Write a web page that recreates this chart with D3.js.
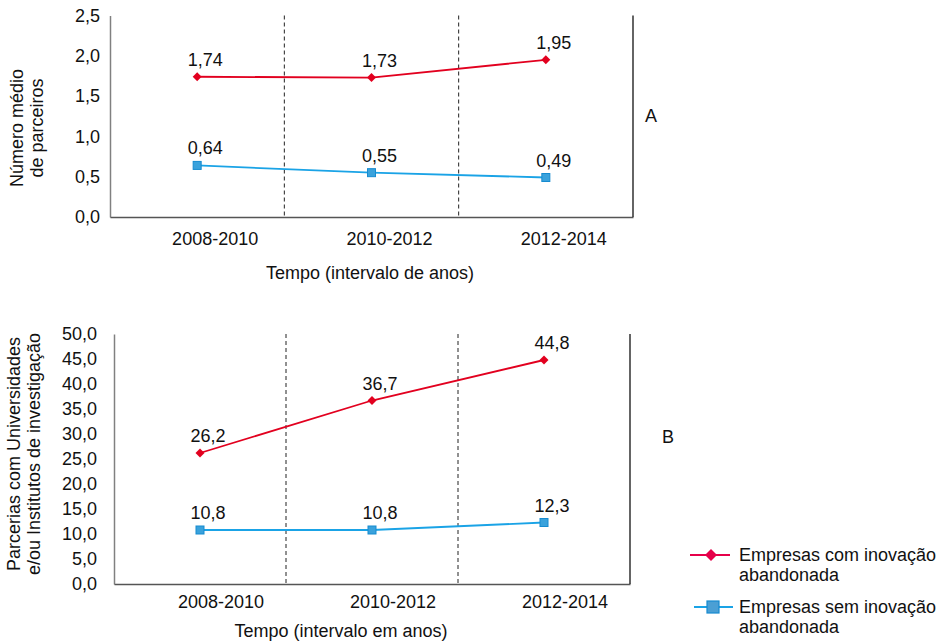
<!DOCTYPE html>
<html><head><meta charset="utf-8">
<script src="https://cdn.jsdelivr.net/npm/d3@7"></script>
<style>body{margin:0;background:#fff}svg text{font-family:"Liberation Sans",Arial,sans-serif;fill:#111}</style>
</head><body><svg id="c" width="950" height="642"></svg>
<script>
const categories = ["2008-2010","2010-2012","2012-2014"];
const aComInovacao = [1.74,1.73,1.95];
const aSemInovacao = [0.64,0.55,0.49];
const aTicks = [0,0.5,1.0,1.5,2.0,2.5];
const bComInovacao = [26.2,36.7,44.8];
const bSemInovacao = [10.8,10.8,12.3];
const bTicks = [0,5,10,15,20,25,30,35,40,45,50];
const seriesNames = ["Empresas com inovação abandonada","Empresas sem inovação abandonada"];

const RED = "#e2001f", BLUE = "#1aa3e6", SQFILL = "#3aa2dc", SQSTROKE = "#168bd0";
const FS = "18px";
const svg = d3.select("#c");
const fmt1 = d => d3.format(".1f")(d).replace(".", ",");
const fmt2 = d => d3.format(".2f")(d).replace(".", ",");

function panel(cfg){
  const g = svg.append("g");
  const x = d3.scaleBand().domain(categories).range([cfg.x0, cfg.x1]).padding(0);
  const y = d3.scaleLinear().domain([0, cfg.ymax]).range([cfg.yb, cfg.yt]);
  const ya = g.append("g").attr("transform", `translate(${cfg.x0},0)`)
    .call(d3.axisLeft(y).tickValues(cfg.ticks).tickFormat(fmt1).tickSize(0).tickPadding(cfg.tp));
  ya.select(".domain").attr("stroke", "#808080").attr("stroke-width", 1.5);
  ya.selectAll("text").style("font-size", FS).attr("fill", "#111");
  const xa = g.append("g").attr("transform", `translate(0,${cfg.yb})`)
    .call(d3.axisBottom(x).tickSize(0).tickPadding(cfg.xp));
  xa.select(".domain").attr("stroke", "#555").attr("stroke-width", 1.5);
  xa.selectAll("text").style("font-size", FS).attr("fill", "#111").attr("dx", cfg.cdx);
  g.append("line").attr("x1", cfg.x1).attr("x2", cfg.x1).attr("y1", cfg.yt).attr("y2", cfg.yb)
    .attr("stroke", "#111").attr("stroke-width", 1.3);
  categories.slice(1).forEach(c => {
    g.append("line").attr("x1", x(c)).attr("x2", x(c)).attr("y1", cfg.yt).attr("y2", cfg.yb)
      .attr("stroke", "#222").attr("stroke-width", 1).attr("stroke-dasharray", "4,3");
  });
  const cx = c => x(c) + x.bandwidth()/2;
  const line = d3.line().x((d,i) => cx(categories[i])).y(d => y(d));
  g.append("path").datum(cfg.s2).attr("d", line).attr("fill", "none").attr("stroke", BLUE).attr("stroke-width", 1.8);
  g.append("path").datum(cfg.s1).attr("d", line).attr("fill", "none").attr("stroke", RED).attr("stroke-width", 1.8);
  g.selectAll(".sq").data(cfg.s2).join("rect")
    .attr("x", (d,i) => cx(categories[i]) - 4).attr("y", d => y(d) - 4)
    .attr("width", 8).attr("height", 8).attr("fill", SQFILL).attr("stroke", SQSTROKE).attr("stroke-width", 1);
  g.selectAll(".dm").data(cfg.s1).join("path")
    .attr("d", d3.symbol(d3.symbolSquare, 40))
    .attr("transform", (d,i) => `translate(${cx(categories[i])},${y(d)}) rotate(45)`)
    .attr("fill", RED);
  [cfg.s1, cfg.s2].forEach(s => {
    g.selectAll(null).data(s).join("text")
      .attr("x", (d,i) => cx(categories[i]) + 8).attr("y", d => y(d) - 11)
      .attr("text-anchor", "middle").style("font-size", FS).text(d => cfg.lf(d));
  });
  const ty = g.append("text").attr("transform", `translate(${cfg.ytx},${cfg.yty}) rotate(-90)`)
    .attr("text-anchor", "middle").style("font-size", FS);
  cfg.ytitle.forEach((t,i) => ty.append("tspan").attr("x", 0).attr("dy", i === 0 ? 0 : 20).text(t));
  g.append("text").attr("x", cfg.xtx).attr("y", cfg.xty).attr("text-anchor", "middle")
    .style("font-size", FS).text(cfg.xtitle);
  g.append("text").attr("x", cfg.lx).attr("y", cfg.ly).style("font-size", FS).text(cfg.letter);
}

panel({x0:110, x1:633, yt:15.5, yb:217, ymax:2.5, ticks:aTicks, tp:10, xp:15, cdx:18, s1:aComInovacao, s2:aSemInovacao, lf:fmt2,
  ytitle:["Número médio","de parceiros"], ytx:23, yty:128, xtitle:"Tempo (intervalo de anos)", xtx:370, xty:279,
  letter:"A", lx:645, ly:122});
panel({x0:114, x1:630, yt:334, yb:584, ymax:50, ticks:bTicks, tp:17, xp:11, cdx:21, s1:bComInovacao, s2:bSemInovacao, lf:fmt1,
  ytitle:["Parcerias com Universidades","e/ou Institutos de investigação"], ytx:20, yty:454, xtitle:"Tempo (intervalo em anos)", xtx:341, xty:637,
  letter:"B", lx:662, ly:443});

const lg = svg.append("g");
const items = [
  {y:555, color:"#e6004a", lines:["Empresas com inovação","abandonada"], x1:690, x2:730, mx:711, type:"d"},
  {y:607, color:BLUE, lines:["Empresas sem inovação","abandonada"], x1:694, x2:733, mx:713, type:"s"}
];
items.forEach(it => {
  lg.append("line").attr("x1", it.x1).attr("x2", it.x2).attr("y1", it.y).attr("y2", it.y)
    .attr("stroke", it.color).attr("stroke-width", 1.8);
  if (it.type === "d") {
    lg.append("path").attr("d", d3.symbol(d3.symbolSquare, 72)).attr("transform", `translate(${it.mx},${it.y}) rotate(45)`).attr("fill", it.color);
  } else {
    lg.append("rect").attr("x", it.mx - 6).attr("y", it.y - 6).attr("width", 12).attr("height", 12)
      .attr("fill", "#4b9fd4").attr("stroke", SQSTROKE).attr("stroke-width", 1.2);
  }
  const t = lg.append("text").attr("x", 739).attr("y", it.y + 6).style("font-size", FS);
  it.lines.forEach((s,i) => t.append("tspan").attr("x", 739).attr("dy", i === 0 ? 0 : 20).text(s));
});
</script></body></html>
